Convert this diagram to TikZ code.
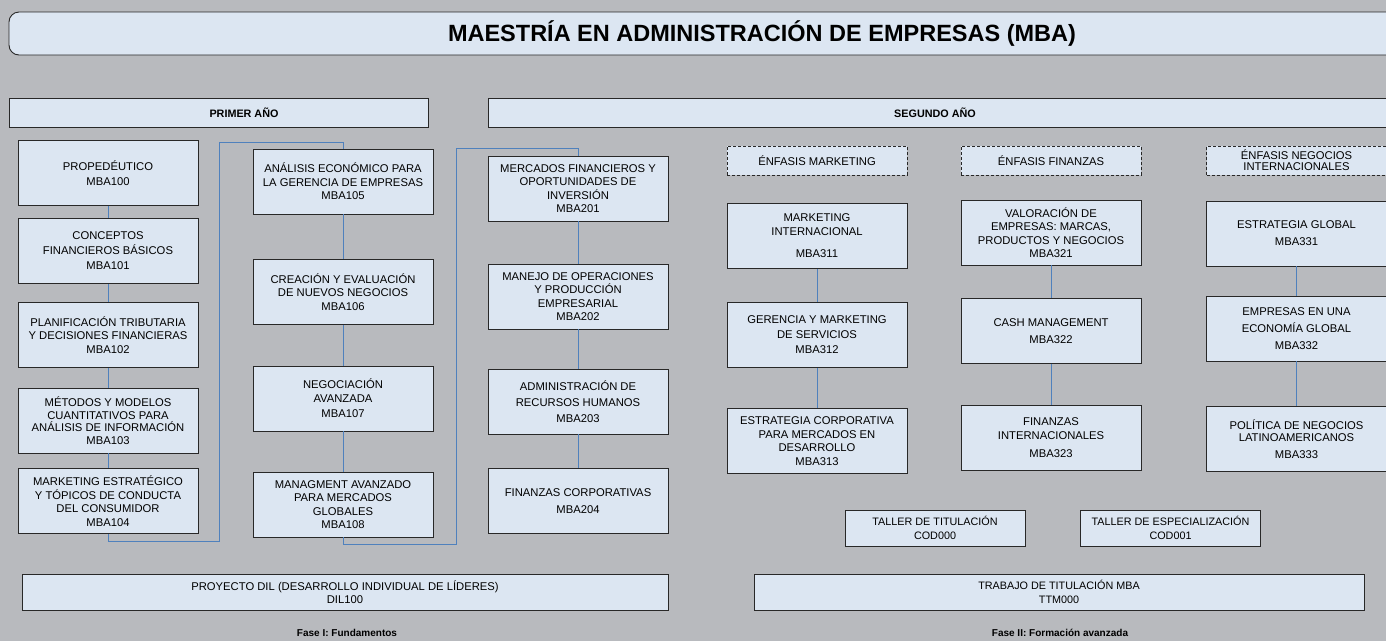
\documentclass[tikz,border=0pt]{standalone}
\usepackage{fontspec}
\setmainfont{Liberation Sans}
\usetikzlibrary{positioning}
\definecolor{fondo}{RGB}{184,186,190}
\definecolor{caja}{RGB}{220,230,242}
\definecolor{borde}{RGB}{40,40,40}
\definecolor{enlace}{RGB}{79,129,189}

\begin{document}
\begin{tikzpicture}[x=1pt, y=-1pt,
  curso/.style={draw=borde, line width=0.9pt, fill=caja, minimum width=180pt, minimum height=65pt,
    inner sep=0pt, align=center, font=\fontsize{11.25}{13.5}\selectfont},
  enfasis/.style={curso, dash pattern=on 3pt off 2pt, minimum height=29pt},
  taller/.style={curso, minimum height=36pt, font=\fontsize{10.8}{13.5}\selectfont},
  franja/.style={draw=borde, line width=0.9pt, fill=caja},
  cabecera/.style={font=\bfseries\fontsize{10.8}{13}\selectfont},
  fase/.style={font=\bfseries\fontsize{10}{12}\selectfont},
  linea/.style={draw=enlace, line width=0.9pt}]
\useasboundingbox (0,0) rectangle (1386,641);
\clip (0,0) rectangle (1386,641);
\fill[fondo] (0,0) rectangle (1386,641);

\draw[franja, rounded corners=10pt] (9,12) rectangle (1420,55);
\node[font=\bfseries\fontsize{23.5}{26}\selectfont] (titulo) at (762,34)
  {MAESTRÍA EN ADMINISTRACIÓN DE EMPRESAS (MBA)};
\draw[franja] (9,98) rectangle (428,127);
\draw[franja] (488,98) rectangle (1420,127);
\node[cabecera] (primer) at (244,112.5) {PRIMER AÑO};
\node[cabecera] (segundo) at (935,112.5) {SEGUNDO AÑO};

\node[curso] (m100) at (108,173) {PROPEDÉUTICO\\[2pt]MBA100};
\node[curso] (m101) at (108,251) {CONCEPTOS\\[1.5pt]FINANCIEROS BÁSICOS\\[1.5pt]MBA101};
\node[curso] (m102) at (108,335) {PLANIFICACIÓN TRIBUTARIA\\Y DECISIONES FINANCIERAS\\MBA102};
\node[curso] (m103) at (108,420.5) {MÉTODOS Y MODELOS\\[-1pt]CUANTITATIVOS PARA\\[-1pt]ANÁLISIS DE INFORMACIÓN\\[-1pt]MBA103};
\node[curso] (m104) at (108,501) {MARKETING ESTRATÉGICO\\Y TÓPICOS DE CONDUCTA\\DEL CONSUMIDOR\\MBA104};

\node[curso] (m105) at (343,181.5) {ANÁLISIS ECONÓMICO PARA\\LA GERENCIA DE EMPRESAS\\MBA105};
\node[curso] (m106) at (343,292) {CREACIÓN Y EVALUACIÓN\\DE NUEVOS NEGOCIOS\\MBA106};
\node[curso] (m107) at (343,398.5) {NEGOCIACIÓN\\AVANZADA\\[2pt]MBA107};
\node[curso] (m108) at (343,504.5) {MANAGMENT AVANZADO\\PARA MERCADOS\\GLOBALES\\MBA108};

\node[curso] (m201) at (578,188.5) {MERCADOS FINANCIEROS Y\\OPORTUNIDADES DE\\INVERSIÓN\\MBA201};
\node[curso] (m202) at (578,296.5) {MANEJO DE OPERACIONES\\Y PRODUCCIÓN\\EMPRESARIAL\\MBA202};
\node[curso] (m203) at (578,401.5) {ADMINISTRACIÓN DE\\[2.5pt]RECURSOS HUMANOS\\[3pt]MBA203};
\node[curso] (m204) at (578,501) {FINANZAS CORPORATIVAS\\[3.5pt]MBA204};

\node[enfasis] (enf1) at (817,160.5) {ÉNFASIS MARKETING};
\node[curso] (m311) at (817,236) {MARKETING\\INTERNACIONAL\\[9pt]MBA311};
\node[curso] (m312) at (817,335) {GERENCIA Y MARKETING\\[1.5pt]DE SERVICIOS\\[1.5pt]MBA312};
\node[curso] (m313) at (817,441) {ESTRATEGIA CORPORATIVA\\PARA MERCADOS EN\\DESARROLLO\\MBA313};

\node[enfasis] (enf2) at (1051,160.5) {ÉNFASIS FINANZAS};
\node[curso] (m321) at (1051,232.5) {VALORACIÓN DE\\EMPRESAS: MARCAS,\\PRODUCTOS Y NEGOCIOS\\MBA321};
\node[curso] (m322) at (1051,331) {CASH MANAGEMENT\\[3.5pt]MBA322};
\node[curso] (m323) at (1051,437.5) {FINANZAS\\INTERNACIONALES\\[4.5pt]MBA323};

\node[enfasis] (enf3) at (1296.5,160.5) {ÉNFASIS NEGOCIOS\\[-2.5pt]INTERNACIONALES};
\node[curso] (m331) at (1296.5,233.5) {ESTRATEGIA GLOBAL\\[3.5pt]MBA331};
\node[curso] (m332) at (1296.5,328.5) {EMPRESAS EN UNA\\[3.5pt]ECONOMÍA GLOBAL\\[3pt]MBA332};
\node[curso] (m333) at (1296.5,439) {POLÍTICA DE NEGOCIOS\\[-1.5pt]LATINOAMERICANOS\\[3.5pt]MBA333};

\node[taller] (cod000) at (935,528) {TALLER DE TITULACIÓN\\COD000};
\node[taller] (cod001) at (1170.5,528) {TALLER DE ESPECIALIZACIÓN\\COD001};
\node[taller, minimum width=646pt, font=\fontsize{11.25}{13.5}\selectfont] (dil100) at (345,592)
  {PROYECTO DIL (DESARROLLO INDIVIDUAL DE LÍDERES)\\DIL100};
\node[taller, minimum width=610pt] (ttm000) at (1059,592) {TRABAJO DE TITULACIÓN MBA\\TTM000};
\node[fase] (fase1) at (347,633) {Fase I: Fundamentos};
\node[fase] (fase2) at (1060,633) {Fase II: Formación avanzada};

\foreach \a/\b in {m100/m101, m101/m102, m102/m103, m103/m104, m105/m106, m106/m107, m107/m108,
  m201/m202, m202/m203, m203/m204, m311/m312, m312/m313, m321/m322, m322/m323, m331/m332, m332/m333}
  \draw[linea] (\a.south) -- (\b.north);
\coordinate (codo1) at (219,142);
\coordinate (codo2) at (456,148);
\draw[linea] (m104.south) -- ++(0,7) -| (codo1) -| (m105.north);
\draw[linea] (m108.south) -- ++(0,7) -| (codo2) -| (m201.north);
\end{tikzpicture}
\end{document}
